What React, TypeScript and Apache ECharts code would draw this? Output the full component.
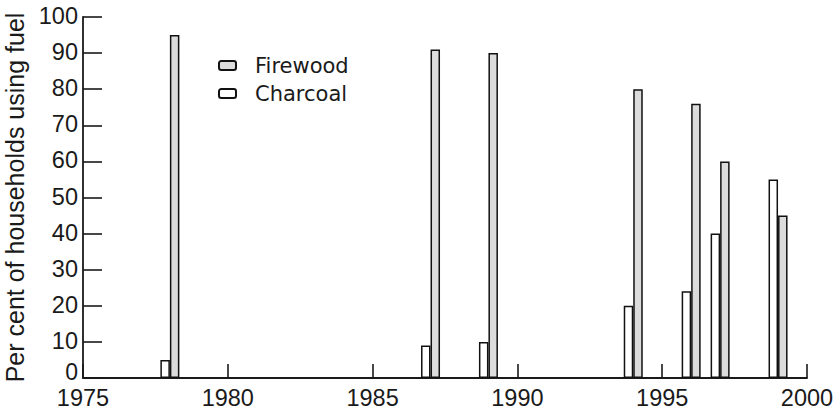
import React, { useEffect, useRef } from "react";
import * as echarts from "echarts";

const years = [1978, 1987, 1989, 1994, 1996, 1997, 1999];
const firewood = [95, 91, 90, 80, 76, 60, 45];
const charcoal = [5, 9, 10, 20, 24, 40, 55];
const yTicks = [0, 10, 20, 30, 40, 50, 60, 70, 80, 90, 100];
const xTicks = [1975, 1980, 1985, 1990, 1995, 2000];

export default function App() {
  const ref = useRef<HTMLDivElement>(null);
  useEffect(() => {
    if (!ref.current) return;
    const chart = echarts.init(ref.current, null, { renderer: "svg" });
    const font = "Liberation Sans, Arial, sans-serif";
    const ink = "#1a1a1a";
    chart.setOption({
      animation: false,
      backgroundColor: "#fff",
      textStyle: { fontFamily: font },
      grid: { left: 83, right: 32, top: 17, bottom: 35, containLabel: false, outerBoundsMode: "none" },
      legend: {
        orient: "vertical",
        left: 218,
        top: 55,
        padding: 0,
        itemWidth: 17,
        itemHeight: 9,
        itemGap: 7,
        data: ["Firewood", "Charcoal"],
        textStyle: {
          fontSize: 21,
          lineHeight: 20,
          color: ink,
          fontFamily: "DejaVu Sans, sans-serif",
          padding: [0, 0, 0, 14],
        },
      },
      xAxis: {
        type: "value",
        min: 1975,
        max: 2000,
        interval: 5,
        splitLine: { show: false },
        axisLine: { lineStyle: { color: ink, width: 1.8 } },
        axisTick: { inside: true, length: 14, lineStyle: { color: ink, width: 1.6 } },
        axisLabel: {
          fontSize: 23.5,
          lineHeight: 18,
          color: ink,
          margin: 11,
          formatter: (v: number) => (xTicks.includes(v) ? String(v) : ""),
        },
      },
      yAxis: {
        type: "value",
        min: 0,
        max: 100,
        interval: 10,
        splitLine: { show: false },
        name: "Per cent of households using fuel",
        nameLocation: "middle",
        nameGap: 49,
        nameTextStyle: { fontSize: 25, color: ink, fontFamily: font },
        axisLine: { show: true, lineStyle: { color: ink, width: 1.8 } },
        axisTick: { inside: true, length: 19, lineStyle: { color: ink, width: 1.6 } },
        axisLabel: {
          fontSize: 23.5,
          lineHeight: 12,
          color: ink,
          margin: 5,
          padding: [0, 0, 2, 0],
          formatter: (v: number) =>
            yTicks.includes(v) ? (v === 0 ? "{z|" + String(v) + "}" : String(v)) : "",
          rich: {
            z: { fontSize: 23, lineHeight: 12, padding: [0, 0, 10, 0], color: ink, fontFamily: font },
          },
        },
      },
      series: [
        {
          name: "Charcoal",
          type: "bar",
          barWidth: 9.5,
          barGap: "0%",
          data: years.map((y, i) => [y, charcoal[i]]),
          itemStyle: { color: "#ffffff", borderColor: "#111", borderWidth: 1.5 },
        },
        {
          name: "Firewood",
          type: "bar",
          barWidth: 9.5,
          barGap: "0%",
          data: years.map((y, i) => [y, firewood[i]]),
          itemStyle: { color: "#dcdcdc", borderColor: "#111", borderWidth: 1.5 },
        },
      ],
    });
    return () => chart.dispose();
  }, []);
  return <div ref={ref} style={{ width: 839, height: 413, position: "absolute", left: 0, top: 0 }} />;
}
